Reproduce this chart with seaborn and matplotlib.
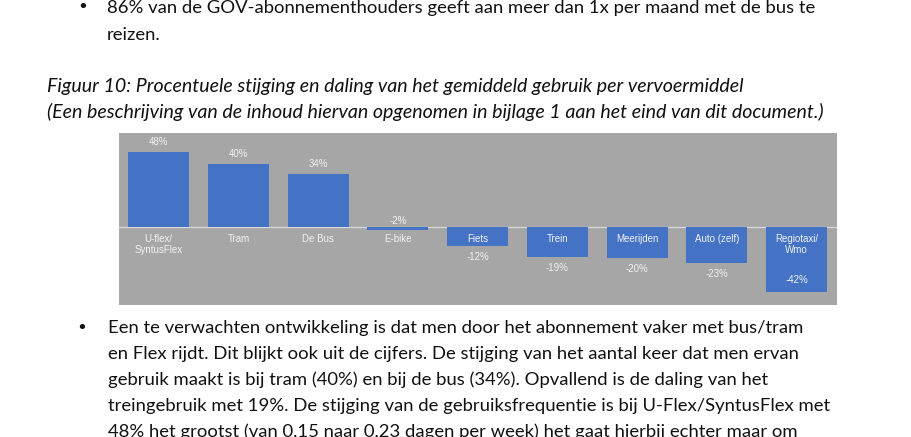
import matplotlib
matplotlib.use("Agg")
import matplotlib.pyplot as plt
import seaborn as sns
import pandas as pd
from matplotlib import font_manager

# ---------------- data ----------------
categories = ["U-flex/\nSyntusFlex", "Tram", "De Bus", "E-bike", "Fiets",
              "Trein", "Meerijden", "Auto (zelf)", "Regiotaxi/\nWmo"]
values = [48, 40, 34, -2, -12, -19, -20, -23, -42]

top_lines = ["86% van de GOV-abonnementhouders geeft aan meer dan 1x per maand met de bus te",
             "reizen."]
caption_lines = ["Figuur 10: Procentuele stijging en daling van het gemiddeld gebruik per vervoermiddel",
                 "(Een beschrijving van de inhoud hiervan opgenomen in bijlage 1 aan het eind van dit document.)"]
bottom_lines = ["Een te verwachten ontwikkeling is dat men door het abonnement vaker met bus/tram",
                "en Flex rijdt. Dit blijkt ook uit de cijfers. De stijging van het aantal keer dat men ervan",
                "gebruik maakt is bij tram (40%) en bij de bus (34%). Opvallend is de daling van het",
                "treingebruik met 19%. De stijging van de gebruiksfrequentie is bij U-Flex/SyntusFlex met",
                "48% het grootst (van 0,15 naar 0,23 dagen per week) het gaat hierbij echter maar om"]

df = pd.DataFrame({"cat": categories, "val": values})

# ---------------- style ----------------
sns.set_theme(style="white")
avail = {f.name for f in font_manager.fontManager.ttflist}
doc_font = next((f for f in ["Lato", "Open Sans", "Noto Sans"] if f in avail), "DejaVu Sans")
chart_font = "Liberation Sans" if "Liberation Sans" in avail else "DejaVu Sans"
plt.rcParams["font.family"] = [chart_font, "DejaVu Sans"]

W, H = 911, 437
fig = plt.figure(figsize=(W / 100, H / 100), dpi=100)
fig.patch.set_facecolor("white")


def fx(x):
    return x / W


def fy(y):
    return 1 - y / H


# chart axes (pixel box 118.8..836.6 x 133..305)
ax = fig.add_axes([fx(118.8), fy(305), fx(836.6) - fx(118.8), fy(133) - fy(305)])
ax.set_facecolor("#a6a6a6")
sns.barplot(data=df, x="cat", y="val", color="#4472c4", saturation=1,
            width=0.765, linewidth=0, edgecolor="none", ax=ax)
ax.axhline(0, color="#d9d9d9", lw=0.9, zorder=0.5)
ax.set_xlim(-0.5, len(categories) - 0.5)
ax.set_ylim(-50, 60)
ax.set_xticks([])
ax.set_yticks([])
ax.set_xlabel("")
ax.set_ylabel("")
for s in ax.spines.values():
    s.set_visible(False)

txt_col = "#f2f2f2"
ymin = ax.get_ylim()[0]
for i, (c, v) in enumerate(zip(categories, values)):
    ax.annotate(c, (i, 0), xytext=(0, -5.4), textcoords="offset points",
                ha="center", va="top", fontsize=7, color=txt_col, linespacing=1.05)
    lab = f"{v}%"
    if v >= 0:
        ax.annotate(lab, (i, v), xytext=(0, 7.2), textcoords="offset points",
                    ha="center", va="center", fontsize=7, color=txt_col)
    elif abs(v) < 5:
        ax.annotate(lab, (i, 0), xytext=(0, 4.5), textcoords="offset points",
                    ha="center", va="center", fontsize=7, color=txt_col)
    elif v - 10 < ymin:
        ax.annotate(lab, (i, v), xytext=(0, 9.2), textcoords="offset points",
                    ha="center", va="center", fontsize=7, color=txt_col)
    else:
        ax.annotate(lab, (i, v), xytext=(0, -8.2), textcoords="offset points",
                    ha="center", va="center", fontsize=7, color=txt_col)

# ---------------- document text ----------------
renderer = fig.canvas.get_renderer()


def fit_size(text, target_w, style="normal", base=13.0):
    t = fig.text(0, 0, text, fontsize=base, family=[doc_font, "DejaVu Sans"], style=style)
    w = t.get_window_extent(renderer).width
    t.remove()
    return base * target_w / w


body_size = fit_size(top_lines[0], 813 - 107)
cap_size = fit_size(caption_lines[1], 824 - 47, style="italic")

doc_col = "#111111"


def put(x, y, s, size, style="normal"):
    fig.text(fx(x), fy(y), s, fontsize=size, family=[doc_font, "DejaVu Sans"],
             style=style, color=doc_col, ha="left", va="baseline")


# top paragraph
fig.text(fx(83), fy(12.5), "\u2022", fontsize=body_size, color=doc_col,
         family=["DejaVu Sans"], ha="center", va="baseline")
for k, line in enumerate(top_lines):
    put(107, 13.5 + 27 * k, line, body_size)

# caption
for k, line in enumerate(caption_lines):
    put(47, 92 + 26 * k, line, cap_size, style="italic")

# bottom paragraph
fig.text(fx(82), fy(333), "\u2022", fontsize=body_size, color=doc_col,
         family=["DejaVu Sans"], ha="center", va="baseline")
for k, line in enumerate(bottom_lines):
    put(108, 333.3 + 25.8 * k, line, body_size)

fig.savefig("out.png", dpi=100)
